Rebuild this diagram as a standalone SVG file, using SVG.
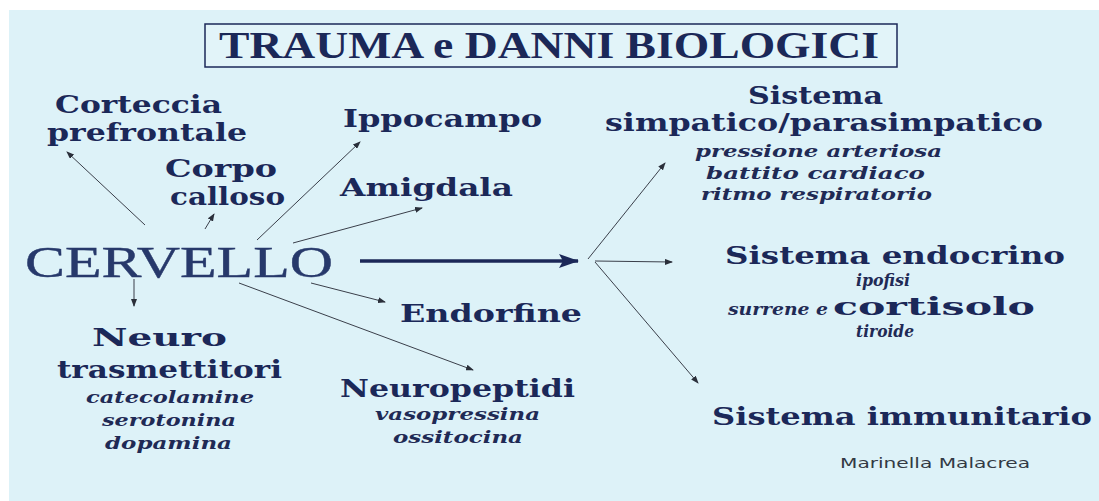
<svg xmlns="http://www.w3.org/2000/svg" width="1099" height="501" viewBox="0 0 1099 501">
<defs>
<style>
.bg{fill:#ddf2f8}
.b{font-family:"DejaVu Serif","Liberation Serif",serif;font-weight:bold;fill:#1b2858;font-size:25px}
.i{font-family:"DejaVu Serif","Liberation Serif",serif;font-style:italic;font-weight:bold;fill:#1f2a55;font-size:17px}
.ln{stroke:#3a3f4a;stroke-width:1;fill:none;marker-end:url(#ah)}
</style>
<marker id="ah" markerWidth="8" markerHeight="6" refX="7" refY="3" orient="auto" markerUnits="userSpaceOnUse"><path d="M0,0 L8,3 L0,6 z" fill="#2a2f3a"/></marker>
<marker id="big" markerWidth="20" markerHeight="14" refX="19" refY="7" orient="auto" markerUnits="userSpaceOnUse"><path d="M0,0 L20,7 L0,14 L4,7 z" fill="#1b2858"/></marker>
</defs>
<rect x="0" y="0" width="1099" height="501" fill="#ffffff"/>
<rect class="bg" x="9" y="10" width="1090" height="491"/>
<g id="title">
<rect x="205" y="24" width="692" height="43" fill="#e2f4f9" stroke="#1b2858" stroke-width="1.5"/>
<text x="219" y="58" font-family="Liberation Serif, serif" font-weight="bold" font-size="38" fill="#1b2858" textLength="660" lengthAdjust="spacingAndGlyphs">TRAUMA e DANNI BIOLOGICI</text>
</g>
<g id="cervello">
<text x="25" y="277" font-family="Liberation Serif, serif" font-size="45" fill="#27396b" stroke="#27396b" stroke-width="0.4" textLength="308" lengthAdjust="spacingAndGlyphs">CERVELLO</text>
</g>
<g id="corteccia">
<text class="b" x="55" y="113" textLength="167" lengthAdjust="spacingAndGlyphs">Corteccia</text>
<text class="b" x="47" y="141" textLength="200" lengthAdjust="spacingAndGlyphs">prefrontale</text>
</g>
<g id="corpo">
<text class="b" x="165" y="177" textLength="112" lengthAdjust="spacingAndGlyphs">Corpo</text>
<text class="b" x="170" y="205" textLength="115" lengthAdjust="spacingAndGlyphs">calloso</text>
</g>
<g id="ippocampo">
<text class="b" x="343" y="127" textLength="199" lengthAdjust="spacingAndGlyphs">Ippocampo</text>
</g>
<g id="amigdala">
<text class="b" x="340" y="196" textLength="173" lengthAdjust="spacingAndGlyphs">Amigdala</text>
</g>
<g id="endorfine">
<text class="b" x="400" y="322" textLength="182" lengthAdjust="spacingAndGlyphs">Endorfine</text>
</g>
<g id="neuropeptidi">
<text class="b" x="340" y="397" textLength="235" lengthAdjust="spacingAndGlyphs">Neuropeptidi</text>
<text class="i" x="375" y="420" textLength="165" lengthAdjust="spacingAndGlyphs">vasopressina</text>
<text class="i" x="393" y="443" textLength="130" lengthAdjust="spacingAndGlyphs">ossitocina</text>
</g>
<g id="neurotrasmettitori">
<text class="b" x="92" y="346" textLength="135" lengthAdjust="spacingAndGlyphs">Neuro</text>
<text class="b" x="57" y="378" textLength="225" lengthAdjust="spacingAndGlyphs">trasmettitori</text>
<text class="i" x="86" y="403" textLength="168" lengthAdjust="spacingAndGlyphs">catecolamine</text>
<text class="i" x="102" y="426" textLength="134" lengthAdjust="spacingAndGlyphs">serotonina</text>
<text class="i" x="105" y="449" textLength="127" lengthAdjust="spacingAndGlyphs">dopamina</text>
</g>
<g id="simpatico">
<text class="b" x="748" y="104" textLength="135" lengthAdjust="spacingAndGlyphs">Sistema</text>
<text class="b" x="605" y="131" textLength="438" lengthAdjust="spacingAndGlyphs">simpatico/parasimpatico</text>
<text class="i" x="695" y="157" textLength="247" lengthAdjust="spacingAndGlyphs">pressione arteriosa</text>
<text class="i" x="706" y="179" textLength="219" lengthAdjust="spacingAndGlyphs">battito cardiaco</text>
<text class="i" x="701" y="200" textLength="231" lengthAdjust="spacingAndGlyphs">ritmo respiratorio</text>
</g>
<g id="endocrino">
<text class="b" x="725" y="264" textLength="340" lengthAdjust="spacingAndGlyphs">Sistema  endocrino</text>
<text class="i" x="856" y="286" textLength="54" lengthAdjust="spacingAndGlyphs">ipofisi</text>
<text class="i" x="728" y="315" textLength="100" lengthAdjust="spacingAndGlyphs">surrene e</text>
<text class="b" x="833" y="315" textLength="202" lengthAdjust="spacingAndGlyphs">cortisolo</text>
<text class="i" x="856" y="337" textLength="58" lengthAdjust="spacingAndGlyphs">tiroide</text>
</g>
<g id="immunitario">
<text class="b" x="712" y="425" textLength="380" lengthAdjust="spacingAndGlyphs">Sistema  immunitario</text>
</g>
<g id="author">
<text x="840" y="468" font-family="DejaVu Sans, sans-serif" font-size="14" fill="#333a44" textLength="190" lengthAdjust="spacingAndGlyphs">Marinella Malacrea</text>
</g>
<g id="connectors">
<line class="ln" x1="145" y1="225" x2="67" y2="152"/>
<line class="ln" x1="205" y1="229" x2="214" y2="214"/>
<line class="ln" x1="257" y1="240" x2="360" y2="142"/>
<line class="ln" x1="293" y1="243" x2="422" y2="208"/>
<line class="ln" x1="311" y1="283" x2="385" y2="302"/>
<line class="ln" x1="239" y1="283" x2="473" y2="370"/>
<line class="ln" x1="134" y1="279" x2="134" y2="306"/>
<line x1="360" y1="261" x2="578" y2="261" stroke="#1b2858" stroke-width="3.5" marker-end="url(#big)"/>
<line class="ln" x1="588" y1="259" x2="665" y2="163"/>
<line class="ln" x1="595" y1="261" x2="672" y2="262"/>
<line class="ln" x1="595" y1="262" x2="698" y2="383"/>
</g>
</svg>
